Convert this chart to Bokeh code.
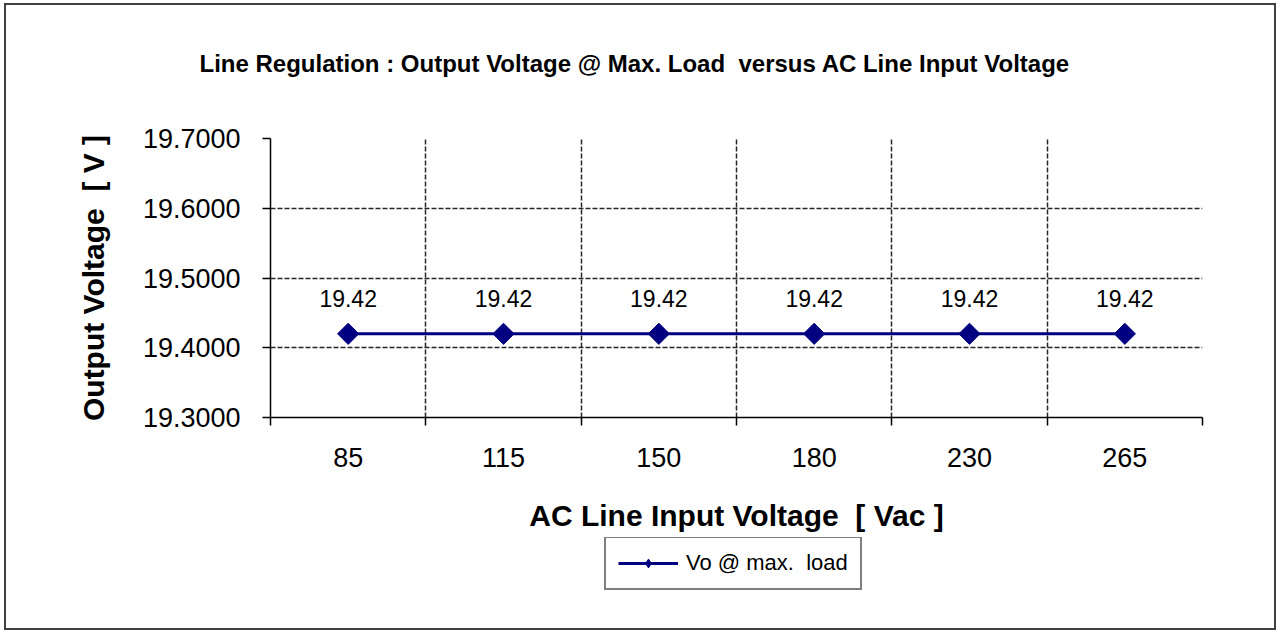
import math
from bokeh.plotting import figure
from bokeh.layouts import column
from bokeh.models import (Range1d, LinearAxis, FixedTicker, NumeralTickFormatter,
                          Grid, Legend, LegendItem, Title)
from bokeh.core.properties import value
from bokeh.embed import file_html
from bokeh.resources import INLINE

# ---- data ----
categories = ["85", "115", "150", "180", "230", "265"]
vo_max_load = [19.42, 19.42, 19.42, 19.42, 19.42, 19.42]
y_ticks = [19.3, 19.4, 19.5, 19.6, 19.7]
series_name = "Vo @ max.\u00a0 load"
title_text = "Line Regulation : Output Voltage @ Max. Load\u00a0 versus AC Line Input Voltage"
x_title = "AC Line Input Voltage\u00a0 [ Vac ]"
y_title = "Output Voltage\u00a0 [ V ]"

x_idx = [i + 1 for i in range(len(categories))]
boundaries = [i + 0.5 for i in range(len(categories) + 1)]
point_labels = [f"{v:.2f}" for v in vo_max_load]

FONT = "Liberation Sans"
NAVY = "#000080"
GRID = "#262626"
W = 1268

p = figure(width=W, height=532, output_backend="svg", toolbar_location=None,
           x_axis_type=None, y_axis_type=None,
           x_range=Range1d(boundaries[0], boundaries[-1]),
           y_range=Range1d(y_ticks[0], y_ticks[-1]),
           min_border_left=264, min_border_right=72,
           min_border_top=133, min_border_bottom=120,
           background_fill_color="white", border_fill_color="white",
           outline_line_color=None)

# title (outermost in the above panel) + spacer between title and frame
p.title = Title(text=title_text, text_font=FONT, text_font_size="24px",
                text_font_style="bold", text_color="black", align="left",
                offset=-71, standoff=10)
p.add_layout(Title(text=" ", text_font_size="10px", standoff=44), "above")

# y axis
yaxis = LinearAxis(ticker=FixedTicker(ticks=y_ticks),
                   formatter=NumeralTickFormatter(format="0.0000"),
                   axis_label=y_title,
                   axis_label_text_font=FONT, axis_label_text_font_size="30px",
                   axis_label_text_font_style="bold", axis_label_text_color="black",
                   axis_label_standoff=30,
                   major_label_text_font=FONT, major_label_text_font_size="27px",
                   major_label_text_color="black", major_label_standoff=22,
                   major_tick_out=8, major_tick_in=0,
                   major_tick_line_color="black", major_tick_line_width=1.5,
                   minor_tick_line_color=None,
                   axis_line_color="black", axis_line_width=1.5)
p.add_layout(yaxis, "left")

# x axis: labels at category centres, tick marks at category boundaries (minor ticks)
xaxis = LinearAxis(ticker=FixedTicker(ticks=x_idx, minor_ticks=boundaries),
                   major_label_overrides={x: c for x, c in zip(x_idx, categories)},
                   axis_label=x_title,
                   axis_label_text_font=FONT, axis_label_text_font_size="30px",
                   axis_label_text_font_style="bold", axis_label_text_color="black",
                   axis_label_standoff=29,
                   major_label_text_font=FONT, major_label_text_font_size="27px",
                   major_label_text_color="black", major_label_standoff=22,
                   major_tick_line_color=None, major_tick_out=0, major_tick_in=0,
                   minor_tick_line_color="black", minor_tick_line_width=1.5,
                   minor_tick_out=8, minor_tick_in=0,
                   axis_line_color="black", axis_line_width=1.5)
p.add_layout(xaxis, "below")

# grids
p.add_layout(Grid(dimension=1, ticker=yaxis.ticker, grid_line_color=GRID,
                  grid_line_dash="5 2", grid_line_width=1.5))
p.add_layout(Grid(dimension=0, ticker=xaxis.ticker, grid_line_color=None,
                  minor_grid_line_color=GRID, minor_grid_line_dash="5 2",
                  minor_grid_line_width=1.5))

# series
line_kw = dict(line_color=NAVY, line_width=3)
p.line(x_idx, vo_max_load, **line_kw)
p.scatter(x_idx, vo_max_load, marker="square", size=15, angle=math.pi / 4,
          fill_color=NAVY, line_color=NAVY)
p.text(x=x_idx, y=vo_max_load, text=point_labels, y_offset=-35,
       text_align="center", text_baseline="middle",
       text_font=value(FONT), text_font_size="23px", text_color="black")

# legend strip below the chart (separate canvas, same series styles)
pl = figure(width=W, height=91, output_backend="svg", toolbar_location=None,
            x_axis_type=None, y_axis_type=None,
            min_border=0, outline_line_color=None,
            background_fill_color="white", border_fill_color="white")
lr = pl.line(x_idx, vo_max_load, visible=False, **line_kw)
sr = pl.scatter(x_idx, vo_max_load, visible=False, marker="diamond",
                fill_color=NAVY, line_color=NAVY)
pl.grid.visible = False
legend = Legend(items=[LegendItem(label=series_name, renderers=[lr, sr])],
                location=(334, 38), orientation="horizontal",
                label_text_font=FONT, label_text_font_size="22px",
                label_text_color="black",
                glyph_width=60, glyph_height=22, label_standoff=8,
                padding=12, margin=0, spacing=0,
                border_line_color="black", border_line_width=2,
                background_fill_color="white", background_fill_alpha=1)
pl.add_layout(legend, "center")

layout = column(p, pl, spacing=0)
layout.styles = {"border": "2px solid #404040", "margin": "3px 0 0 4px"}

open("out.html", "w").write(file_html(layout, INLINE))
